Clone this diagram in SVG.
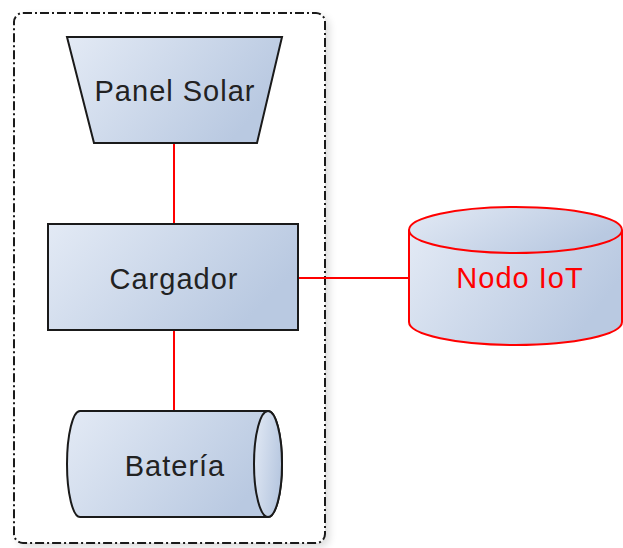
<svg xmlns="http://www.w3.org/2000/svg" width="623" height="548" viewBox="0 0 623 548">
<defs>
<linearGradient id="g" x1="0" y1="0" x2="1" y2="0.4">
<stop offset="0" stop-color="#e3eaf5"/>
<stop offset="1" stop-color="#b9c9e1"/>
</linearGradient>
<filter id="sh" x="-10%" y="-10%" width="130%" height="130%">
<feGaussianBlur in="SourceAlpha" stdDeviation="4"/>
<feOffset dx="4" dy="4"/>
<feComponentTransfer><feFuncA type="linear" slope="0.15"/></feComponentTransfer>
<feMerge><feMergeNode/><feMergeNode in="SourceGraphic"/></feMerge>
</filter>
</defs>
<style>
.shape{fill:url(#g);stroke:#1a1a1a;stroke-width:2}
.red{stroke:#ff0000}
.lbl{font-family:"Liberation Sans",Arial,sans-serif;font-size:29px;letter-spacing:1px;fill:#222;text-anchor:middle}
.conn{stroke:#ff0000;stroke-width:2;fill:none}
.frame{fill:none;stroke:#1a1a1a;stroke-width:2;stroke-dasharray:9 3 2 3}
</style>
<g id="container">
<rect x="14" y="13" width="311" height="530" rx="9" ry="9" fill="#fff" filter="url(#sh)"/>
<rect class="frame" x="14" y="13" width="311" height="530" rx="9" ry="9"/>
</g>
<g id="connectors">
<line class="conn" x1="174" y1="143" x2="174" y2="224"/>
<line class="conn" x1="174" y1="330" x2="174" y2="411"/>
<line class="conn" x1="298" y1="278" x2="409" y2="278"/>
</g>
<g id="panel-solar">
<polygon class="shape" points="67,37 282,37 257,143 94,143"/>
<text class="lbl" x="175" y="101">Panel Solar</text>
</g>
<g id="cargador">
<rect class="shape" x="48" y="224" width="250" height="106"/>
<text class="lbl" x="174" y="289">Cargador</text>
</g>
<g id="bateria">
<path class="shape" d="M80,411 L268,411 A14,53 0 0 1 268,517 L80,517 A13,53 0 0 1 80,411 Z"/>
<ellipse class="shape" cx="268" cy="464" rx="14" ry="53"/>
<text class="lbl" x="175" y="476">Batería</text>
</g>
<g id="nodo-iot">
<path class="shape red" d="M409,230 L409,322 A106.5,23 0 0 0 622,322 L622,230"/>
<ellipse class="shape red" cx="515.5" cy="230" rx="106.5" ry="23"/>
<text class="lbl" x="520" y="288" style="fill:#ff0000">Nodo IoT</text>
</g>
</svg>
